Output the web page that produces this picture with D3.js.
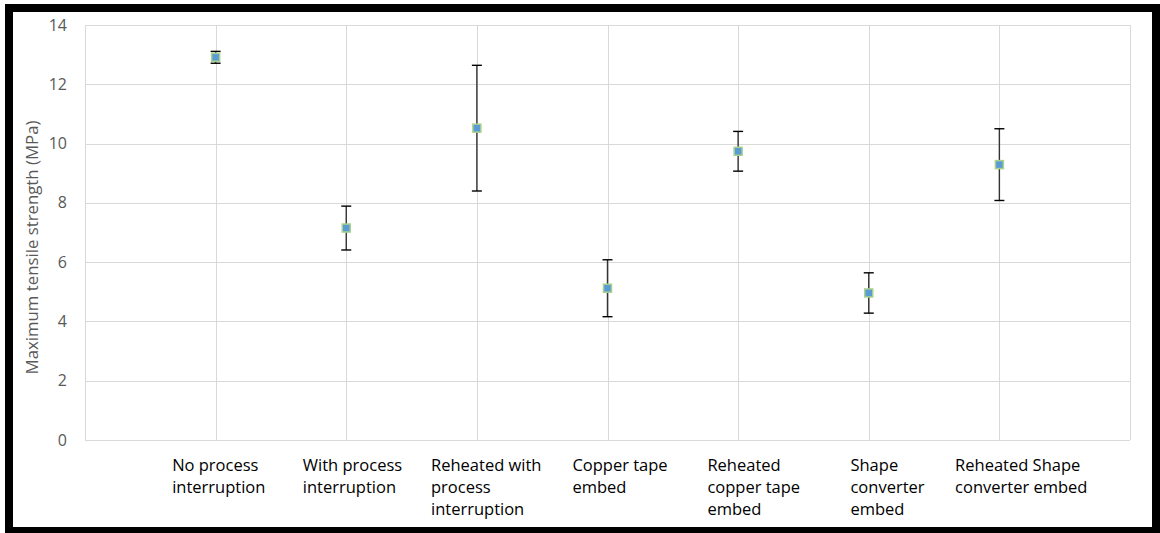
<!DOCTYPE html>
<html><head><meta charset="utf-8">
<script src="https://cdn.jsdelivr.net/npm/d3@7"></script>
<style>body{margin:0;background:#fff;} svg{display:block;}</style>
</head><body>
<svg id="c" width="1160" height="533"></svg>
<script>
const categories = [
  ["No process", "interruption"],
  ["With process", "interruption"],
  ["Reheated with", "process", "interruption"],
  ["Copper tape", "embed"],
  ["Reheated", "copper tape", "embed"],
  ["Shape", "converter", "embed"],
  ["Reheated Shape", "converter embed"]
];
const values = [12.91, 7.15, 10.52, 5.12, 9.74, 4.96, 9.29];
const errors = [0.20, 0.74, 2.12, 0.96, 0.67, 0.68, 1.21];
const yTicks = [0, 2, 4, 6, 8, 10, 12, 14];
const yTitle = "Maximum tensile strength (MPa)";

const svg = d3.select("#c");
const L = 85, R = 1130, T = 25, B = 440;
const x = d3.scaleLinear().domain([0, categories.length + 1]).range([L, R]);
// label block centres (labels sit slightly wider-spaced than the gridlines)
const xLab = d3.scaleLinear().domain([0, categories.length + 1]).range([L, R + 25]);
const y = d3.scaleLinear().domain([0, 14]).range([B, T]);

// frame
svg.append("rect").attr("x", 9).attr("y", 8).attr("width", 1147).attr("height", 523)
  .attr("fill", "#fff").attr("stroke", "#000").attr("stroke-width", 8);

// horizontal gridlines
svg.append("g").selectAll("line").data(yTicks).join("line")
  .attr("x1", L).attr("x2", R).attr("y1", d => Math.round(y(d)) + 0.5).attr("y2", d => Math.round(y(d)) + 0.5)
  .attr("stroke", "#d9d9d9").attr("stroke-width", 1);
// vertical gridlines
const vIdx = d3.range(0, categories.length + 2);
svg.append("g").selectAll("line").data(vIdx).join("line")
  .attr("x1", d => Math.round(x(d)) + 0.5).attr("x2", d => Math.round(x(d)) + 0.5)
  .attr("y1", T).attr("y2", B)
  .attr("stroke", "#d9d9d9").attr("stroke-width", 1);

// y axis labels
const yAxis = d3.axisLeft(y).tickValues(yTicks).tickSize(0).tickPadding(0);
const ga = svg.append("g").attr("transform", `translate(67,0)`).call(yAxis);
ga.select(".domain").remove();
ga.selectAll("text").attr("font-family", "Open Sans").attr("font-size", 16).attr("fill", "#595959");

// y title
svg.append("text").attr("transform", `translate(38,${(T + B) / 2 + 15}) rotate(-90)`)
  .attr("text-anchor", "middle").attr("font-family", "Open Sans").attr("font-size", 16.8)
  .attr("fill", "#595959").text(yTitle);

// category labels
categories.forEach((lines, i) => {
  const g = svg.append("g");
  const t = g.append("text").attr("font-family", "Open Sans").attr("font-size", 16.5).attr("fill", "#000");
  lines.forEach((s, j) => t.append("tspan").attr("x", 0).attr("y", 471 + j * 22).text(s));
  const w = d3.max(t.selectAll("tspan").nodes(), n => n.getComputedTextLength());
  g.attr("transform", `translate(${xLab(i + 1) - w / 2},0)`);
});

// error bars
const eb = svg.append("g").attr("stroke", "#000").attr("stroke-width", 1.4);
values.forEach((v, i) => {
  const cx = x(i + 1);
  eb.append("line").attr("x1", cx).attr("x2", cx).attr("y1", y(v + errors[i])).attr("y2", y(v - errors[i])).attr("stroke", "#333");
  [v + errors[i], v - errors[i]].forEach(e => {
    eb.append("line").attr("x1", cx - 5).attr("x2", cx + 5).attr("y1", y(e)).attr("y2", y(e));
  });
});

// markers
svg.append("g").selectAll("rect").data(values).join("rect")
  .attr("x", (d, i) => x(i + 1) - 4).attr("y", d => y(d) - 4)
  .attr("width", 8).attr("height", 8)
  .attr("fill", "#5b9bd5").attr("stroke", "#a9d18e").attr("stroke-width", 1.5);
</script>
</body></html>
